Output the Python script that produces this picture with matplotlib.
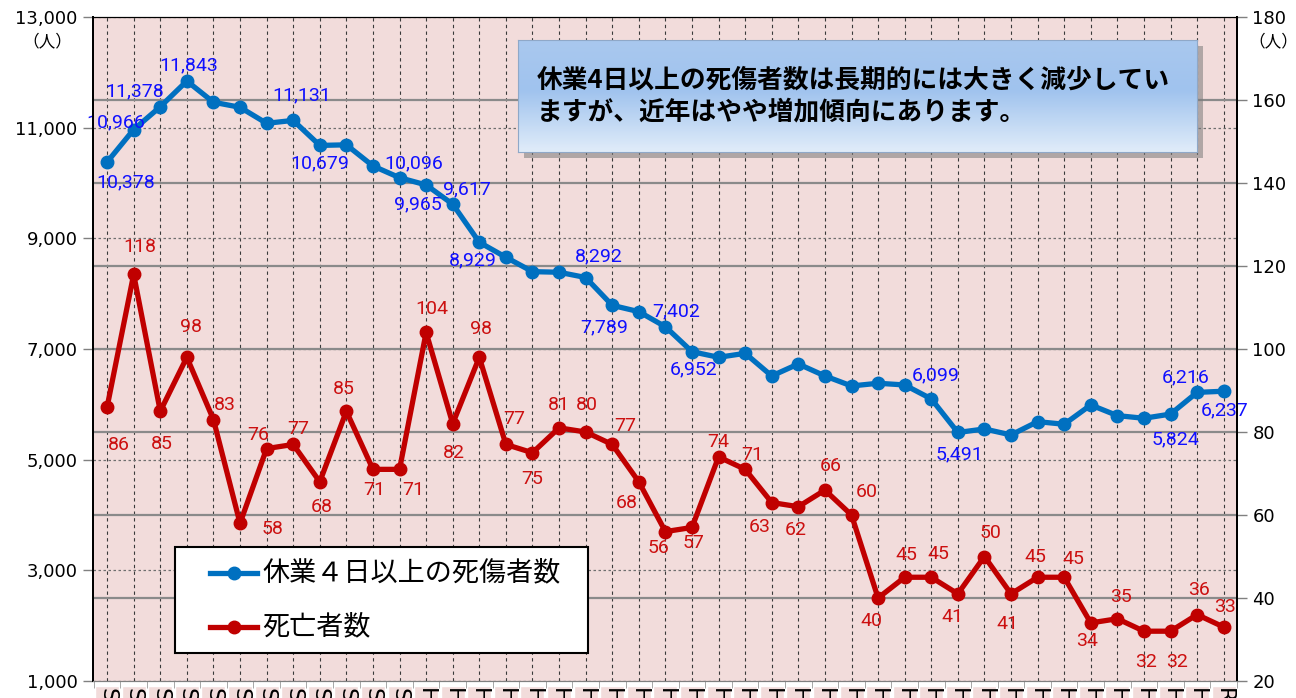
import matplotlib
matplotlib.use('Agg')
import matplotlib.pyplot as plt
import numpy as np
from matplotlib.patches import Rectangle
from matplotlib.lines import Line2D
from matplotlib.colors import LinearSegmentedColormap
from matplotlib.transforms import blended_transform_factory

plt.rcParams['font.family'] = ['DejaVu Sans']
JP = ['Noto Sans CJK JP', 'DejaVu Sans']

# era labels: S52-S63, H1-H30, R1
years = ['S%d' % y for y in range(52, 64)] + ['H%d' % y for y in range(1, 31)] + ['R1']

# 休業4日以上の死傷者数 (left axis)
injured = [10378, 10966, 11378, 11843, 11460, 11368, 11079, 11131, 10679, 10690,
           10308, 10096, 9965, 9617, 8929, 8658, 8398, 8387, 8292, 7789,
           7675, 7402, 6952, 6850, 6922, 6513, 6730, 6513, 6332, 6381,
           6350, 6099, 5491, 5555, 5447, 5687, 5640, 5989, 5796, 5748,
           5824, 6216, 6237]

# 死亡者数 (right axis)
deaths = [86, 118, 85, 98, 83, 58, 76, 77, 68, 85,
          71, 71, 104, 82, 98, 77, 75, 81, 80, 77,
          68, 56, 57, 74, 71, 63, 62, 66, 60, 40,
          45, 45, 41, 50, 41, 45, 45, 34, 35, 32,
          32, 36, 33]

# which injured points carry a label, and where the label sits (pixels)
injured_lbl = {0: (19, -20), 1: (-18, 7), 2: (-26, 15), 3: (2, 16), 7: (8, 25),
               8: (0, -18), 11: (14, 14), 12: (-8, -19), 13: (14, 15), 14: (-6, -18),
               18: (13, 21), 19: (-8, -22), 21: (11, 15), 22: (2, -18), 31: (4, 23),
               32: (2, -22), 40: (5, -25), 41: (-11, 15), 42: (1, -19)}
deaths_lbl = [(12, -38), (6, 27), (2, -33), (4, 30), (11, 15), (32, -6), (-8, 14), (5, 15),
              (2, -25), (-3, 22), (1, -21), (14, -21), (6, 23), (1, -29), (2, 28), (8, 25),
              (0, -26), (0, 23), (1, 27), (13, 18), (-12, -21), (-7, -16), (2, -16), (0, 15),
              (7, 14), (-12, -24), (-3, -23), (6, 24), (15, 23), (-7, -23), (2, 22), (7, 23),
              (-5, -23), (6, 23), (-4, -30), (-2, 20), (9, 18), (-4, -18), (4, 22), (2, -31),
              (7, -31), (2, 25), (1, 20)]

BLUE = '#0070C0'
RED = '#C00000'
W, H = 1296, 698

fig = plt.figure(figsize=(12.96, 6.98), dpi=100)
ax = fig.add_axes([93 / W, 1 - 681 / H, (1237 - 93) / W, (681 - 17) / H])
ax2 = ax.twinx()

x = np.arange(len(years))
ax.set_facecolor('#f2dcdb')
ax.set_xlim(-0.53, len(years) - 0.52)
ax.set_ylim(1000, 13000)
ax2.set_ylim(20, 180)
ax.set_yticks(range(1000, 13001, 2000))
ax.set_yticklabels(['{:,}'.format(v) for v in range(1000, 13001, 2000)])
ax2.set_yticks(range(20, 181, 20))

# grid: dashed for left ticks, solid for right ticks, dashed verticals
ax.set_xticks(x)
ax.grid(axis='y', linestyle=(0, (2, 2)), color='#6f6f6f', lw=0.9, zorder=0)
ax.grid(axis='x', linestyle=(0, (3, 3)), color='#3a3a3a', lw=0.8, zorder=0)
tr = blended_transform_factory(ax.transAxes, ax2.transData)
for r in range(40, 161, 20):
    ax.plot([0, 1], [r, r], transform=tr, color='#8a8a8a', lw=1.6, zorder=1)
ax.set_axisbelow(True)

ax.plot(x, injured, color=BLUE, lw=3.8, marker='o', ms=9, zorder=3)
ax2.plot(x, deaths, color=RED, lw=3.8, marker='o', ms=9, zorder=3)

for i, (dx, dy) in injured_lbl.items():
    ax.annotate('{:,}'.format(injured[i]), (x[i], injured[i]), xytext=(dx, dy),
                textcoords='offset pixels', ha='center', va='center',
                fontsize=14, color='#1010ff', family='Roboto', zorder=4)
for i, (dx, dy) in enumerate(deaths_lbl):
    ax2.annotate(str(deaths[i]), (x[i], deaths[i]), xytext=(dx, dy),
                 textcoords='offset pixels', ha='center', va='center',
                 fontsize=14, color='#cc1010', family='Roboto', zorder=4)

# axes styling
for a in (ax, ax2):
    a.tick_params(axis='y', length=7, width=1, color='#808080', labelsize=13, pad=4)
    a.spines['left'].set_color('black')
    a.spines['right'].set_color('black')
    a.spines['top'].set_color('black')
    a.spines['bottom'].set_color('#808080')
    a.spines['left'].set_linewidth(1.4)
    a.spines['right'].set_linewidth(1.4)

# era labels run downward and are cut by the bottom edge, as in the source
ax.set_xticklabels(years, rotation=270, fontsize=16)
ax.tick_params(axis='x', which='major', length=0, pad=5)
ax.set_xticks(np.arange(-0.5, len(years), 1), minor=True)
ax.tick_params(axis='x', which='minor', length=5, color='#9a9a9a')
for lbl in ax.get_xticklabels():
    lbl.set_va('top')
    lbl.set_ha('center')
    lbl.set_bbox(dict(facecolor='#f2dcdb', edgecolor='white', pad=1.5))

fig.text(47 / W, 1 - 42 / H, '（人）', ha='center', va='center', fontsize=12, family=JP)
fig.text(1273 / W, 1 - 42 / H, '（人）', ha='center', va='center', fontsize=12, family=JP)

# legend box
fig.add_artist(Rectangle((175 / W, 1 - 653 / H), (588 - 175) / W, (653 - 547) / H,
                         transform=fig.transFigure, facecolor='white', edgecolor='black',
                         lw=1.5, zorder=5))
for yy, col, name in [(573, BLUE, '休業４日以上の死傷者数'), (627, RED, '死亡者数')]:
    fig.add_artist(Line2D([210 / W, 257 / W], [1 - yy / H] * 2, color=col, lw=3.8,
                          transform=fig.transFigure, zorder=6))
    fig.add_artist(Line2D([233.5 / W], [1 - yy / H], color=col, marker='o', ms=9,
                          transform=fig.transFigure, zorder=6))
    fig.text(262 / W, 1 - yy / H, name, va='center', ha='left', fontsize=19.5,
             family=JP, zorder=6)

# comment box with gradient and shadow
fig.add_artist(Rectangle((524 / W, 1 - 158 / H), 679 / W, 112 / H, transform=fig.transFigure,
                         facecolor='#7a7a7a', edgecolor='none', alpha=0.55, zorder=8))
bx = fig.add_axes([518 / W, 1 - 152 / H, 679 / W, 112 / H], zorder=10)
cmap = LinearSegmentedColormap.from_list('box', [(0, '#a9c8ee'), (0.45, '#a0c3ee'),
                                                 (1, '#e0ecf9')])
bx.imshow(np.linspace(0, 1, 100).reshape(-1, 1), aspect='auto', cmap=cmap,
          extent=[0, 1, 0, 1])
bx.set_xlim(0, 1)
bx.set_ylim(0, 1)
bx.set_xticks([])
bx.set_yticks([])
for s in bx.spines.values():
    s.set_color('#8fa8c8')
bx.text(19 / 679, 0.5, '休業4日以上の死傷者数は長期的には大きく減少してい\nますが、近年はやや増加傾向にあります。',
        transform=bx.transAxes, ha='left', va='center', fontsize=18.5, fontweight='bold',
        family=JP, linespacing=1.25)

fig.savefig('out.png', dpi=100)
